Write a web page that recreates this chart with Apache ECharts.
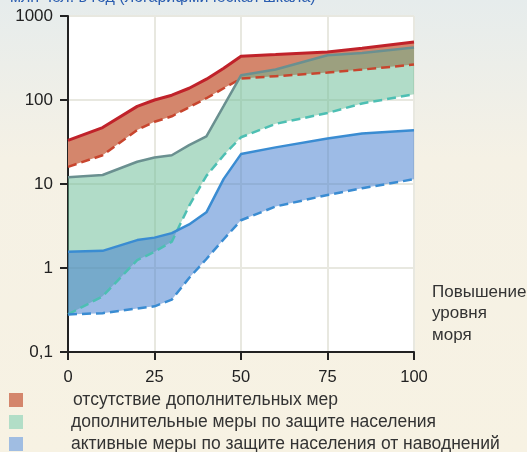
<!DOCTYPE html>
<html>
<head>
<meta charset="utf-8">
<script src="https://cdn.jsdelivr.net/npm/echarts@6/dist/echarts.min.js"></script>
<style>
  html, body { margin: 0; padding: 0; }
  #chart { width: 527px; height: 452px; }
</style>
</head>
<body>
<div id="chart"></div>
<script>
// повышение уровня моря, см
const xs = [0, 10, 20, 25, 30, 35, 40, 45, 50, 60, 75, 85, 100]

// отсутствие дополнительных мер
const redTop = [33, 47, 84, 100, 114, 138, 177, 239, 332, 347, 373, 413, 491]
const redLow = [16, 22, 44, 55, 64, 82, 105, 138, 180, 192, 212, 230, 264]
// дополнительные меры по защите населения
const greenTop = [12, 12.8, 18.4, 20.7, 22, 29, 37, 85, 197, 231, 341, 363, 421]
const greenLow = [0.28, 0.46, 1.24, 1.56, 2.06, 5.5, 12.5, 22, 36, 52, 70, 91, 117]
// активные меры по защите населения от наводнений
const blueTop = [1.56, 1.6, 2.15, 2.3, 2.6, 3.3, 4.6, 11.5, 22.7, 27.3, 34.8, 40, 43.7]
const blueLow = [0.28, 0.29, 0.33, 0.35, 0.42, 0.76, 1.28, 2.2, 3.7, 5.4, 7.4, 8.9, 11.4]

const yTicks = ['0,1', '1', '10', '100', '1000']
const names = [
  'отсутствие дополнительных мер',
  'дополнительные меры по защите населения',
  'активные меры по защите населения от наводнений'
]
const legendColors = ['#d4866c', '#b2dec7', '#a0bde2']

const chart = echarts.init(document.getElementById('chart'))

// заливка между верхней и нижней линией (один полигон на полосу)
function band(name, top, low, fill, topLine, lowLine, topWidth) {
  const rows = xs.map((x, i) => [x, low[i], top[i]])
  return [
    {
      name: name,
      type: 'custom',
      data: rows,
      encode: { x: 0, y: [1, 2] },
      itemStyle: { color: fill },
      renderItem: function(params, api) {
        if (params.dataIndex !== 0) return
        const upper = rows.map(r => api.coord([r[0], r[2]]))
        const lower = rows.map(r => api.coord([r[0], r[1]])).reverse()
        return {
          type: 'polygon',
          shape: { points: upper.concat(lower) },
          style: { fill: fill }
        }
      }
    },
    {
      name: name + ' low',
      type: 'line',
      symbol: 'none',
      data: rows.map(r => [r[0], r[1]]),
      lineStyle: { color: lowLine, width: 2.5, type: [9, 5] }
    },
    {
      name: name + ' top',
      type: 'line',
      symbol: 'none',
      data: rows.map(r => [r[0], r[2]]),
      lineStyle: { color: topLine, width: topWidth }
    }
  ]
}

// по одной легенде на строку
const legends = names.map((n, i) => ({
  orient: 'vertical',
  left: 9,
  top: 391 + 22 * i,
  padding: 0,
  itemWidth: 14,
  itemHeight: 14,
  icon: 'rect',
  selectedMode: false,
  textStyle: {
    fontSize: 17.5,
    color: '#333',
    lineHeight: 14,
    padding: [0, 0, 0, i === 0 ? 45 : 43],
    fontFamily: 'Liberation Sans'
  },
  data: [{ name: n, itemStyle: { color: legendColors[i] } }]
}))

chart.setOption({
  animation: false,
  backgroundColor: new echarts.graphic.LinearGradient(0, 0, 0, 1, [
    { offset: 0, color: '#e6ecec' },
    { offset: 0.35, color: '#f5f1e5' },
    { offset: 1, color: '#f7f2e3' }
  ]),
  title: {
    text: 'млн чел. в год (логарифмическая шкала)',
    left: 10,
    top: -10,
    padding: 0,
    textStyle: { color: '#2a5db0', fontSize: 16, fontWeight: 'normal', fontFamily: 'Liberation Sans' }
  },
  legend: legends,
  grid: {
    left: 68,
    right: 113,
    top: 16,
    bottom: 100,
    show: true,
    backgroundColor: '#fff',
    borderWidth: 0
  },
  xAxis: {
    type: 'value',
    min: 0,
    max: 100,
    interval: 25,
    axisLine: { lineStyle: { color: '#222', width: 2 } },
    axisTick: { show: true, length: 8, lineStyle: { color: '#222', width: 2 } },
    axisLabel: { color: '#222', fontSize: 16.5, margin: 17, fontFamily: 'Liberation Sans' },
    splitLine: { show: true, lineStyle: { color: '#e8e8e0', width: 2 } }
  },
  yAxis: {
    type: 'log',
    logBase: 10,
    min: 0.1,
    max: 1000,
    axisLine: { show: true, lineStyle: { color: '#222', width: 2 } },
    axisTick: { show: true, length: 8, lineStyle: { color: '#222', width: 2 } },
    axisLabel: {
      color: '#222',
      fontSize: 17,
      margin: 15,
      fontFamily: 'Liberation Sans',
      formatter: v => yTicks[Math.round(Math.log10(v)) + 1]
    },
    splitLine: { show: true, lineStyle: { color: '#e8e8e0', width: 2 } },
    minorTick: { show: false }
  },
  graphic: [
    {
      type: 'text',
      left: 432,
      top: 281,
      style: {
        text: 'Повышение\nуровня\nморя',
        fill: '#333',
        font: '17px "Liberation Sans"',
        lineHeight: 21.7
      }
    }
  ],
  series: [
    ...band(names[0], redTop, redLow, '#d4866c', '#c0222a', '#c8452e', 3),
    ...band(names[1], greenTop, greenLow, 'rgba(100,185,145,0.5)', '#6a9090', '#4dbfb3', 2.5),
    ...band(names[2], blueTop, blueLow, 'rgba(60,120,205,0.5)', '#3a8cd2', '#3a8cd2', 2.5)
  ]
})
</script>
</body>
</html>
